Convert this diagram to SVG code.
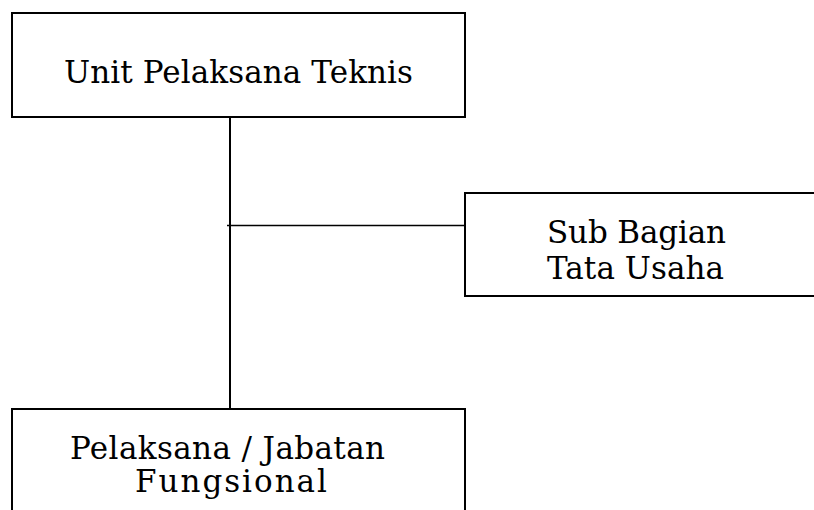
<svg xmlns="http://www.w3.org/2000/svg" width="814" height="510" viewBox="0 0 814 510">
<style>
.box{fill:#fff;stroke:#000;stroke-width:2}
.t{font-family:"DejaVu Serif","Liberation Serif",serif;font-size:31px;fill:#000}
.c{stroke:#000;fill:none}
</style>
<rect width="814" height="510" fill="#fff"/>
<g id="connectors">
<line class="c" x1="230" y1="117" x2="230" y2="408" stroke-width="2"/>
<line class="c" x1="227" y1="225.5" x2="465" y2="225.5" stroke-width="1.5"/>
</g>
<g id="node-upt">
<rect class="box" x="12" y="13" width="453" height="104"/>
<text class="t" x="64" y="83" textLength="349" lengthAdjust="spacing">Unit Pelaksana Teknis</text>
</g>
<g id="node-subbag">
<rect class="box" x="465" y="193" width="360" height="103"/>
<text class="t" x="547" y="243" textLength="179" lengthAdjust="spacing">Sub Bagian</text>
<text class="t" x="547" y="279" textLength="177" lengthAdjust="spacing">Tata Usaha</text>
</g>
<g id="node-pelaksana">
<rect class="box" x="12" y="409" width="453" height="120"/>
<text class="t" x="70" y="459" textLength="315" lengthAdjust="spacing">Pelaksana / Jabatan</text>
<text class="t" x="135" y="492" textLength="192" lengthAdjust="spacing">Fungsional</text>
</g>
</svg>
